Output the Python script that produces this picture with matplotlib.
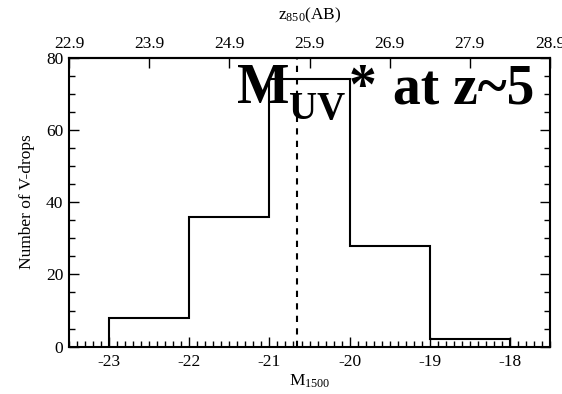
import numpy as np
import matplotlib.pyplot as plt
from matplotlib.ticker import MultipleLocator, FixedLocator

plt.rcParams['font.family'] = ['Liberation Serif', 'DejaVu Serif']
plt.rcParams['mathtext.fontset'] = 'custom'
plt.rcParams['mathtext.rm'] = 'Liberation Serif'
plt.rcParams['mathtext.it'] = 'Liberation Serif:italic'
plt.rcParams['mathtext.bf'] = 'Liberation Serif:bold'
plt.rcParams['axes.unicode_minus'] = False

# binned absolute magnitudes of the V-drop sample
bin_edges = [-23, -22, -21, -20, -19, -18]
counts = [8, 36, 74, 28, 2]
m_star = -20.65
z_offset = 46.4          # z850(AB) = M1500 + offset
top_ticks = [22.9, 23.9, 24.9, 25.9, 26.9, 27.9, 28.9]

fig = plt.figure(figsize=(5.62, 3.94), dpi=100)
ax = fig.add_axes([0.1228, 0.12, 0.8559, 0.734])

ax.stairs(counts, bin_edges, baseline=0, color='black', linewidth=1.5)
ax.axvline(m_star, color='black', linewidth=1.5, linestyle=(0, (3, 3)))

ax.set_xlim(-23.5, -17.5)
ax.set_ylim(0, 80)
ax.xaxis.set_major_locator(MultipleLocator(1))
ax.xaxis.set_minor_locator(MultipleLocator(0.1))
ax.yaxis.set_major_locator(MultipleLocator(20))
ax.yaxis.set_minor_locator(MultipleLocator(5))
ax.tick_params(which='both', direction='in', width=1, labelsize=12.5,
               top=False, right=True)
ax.tick_params(which='major', length=7)
ax.tick_params(which='minor', length=4)
ax.tick_params(axis='y', which='both', right=True, labelright=False, pad=4)
ax.tick_params(axis='x', pad=5)
for s in ax.spines.values():
    s.set_linewidth(1.5)

ax.set_xlabel(r'M$_{1500}$', fontsize=12.5, labelpad=2)
ax.set_ylabel('Number of V-drops', fontsize=12.5, labelpad=8)

top = ax.secondary_xaxis('top', functions=(lambda m: m + z_offset,
                                           lambda z: z - z_offset))
top.xaxis.set_major_locator(FixedLocator(top_ticks))
top.xaxis.set_minor_locator(FixedLocator([]))
top.tick_params(direction='in', length=7, width=1, labelsize=12.5, pad=4)
top.set_xlabel(r'z$_{850}$(AB)', fontsize=12.5, labelpad=12)
top.spines['top'].set_linewidth(1.5)

# big label: M, lowered UV subscript, asterisk, then the rest
base_y = 0.8416
t_m = ax.text(0.3487, base_y, 'M', transform=ax.transAxes, fontsize=40,
              fontweight='bold', ha='left', va='baseline', clip_on=False)
t_uv = ax.annotate('UV', xy=(1, base_y), xycoords=(t_m, 'axes fraction'),
                   xytext=(0, -11), textcoords='offset points', fontsize=28,
                   fontweight='bold', ha='left', va='baseline')
t_star = ax.annotate('*', xy=(1, base_y), xycoords=(t_uv, 'axes fraction'),
                     xytext=(2.5, 0), textcoords='offset points', fontsize=40,
                     fontweight='bold', ha='left', va='baseline')
ax.annotate('at z~5', xy=(1, base_y), xycoords=(t_star, 'axes fraction'),
            xytext=(11.5, 0), textcoords='offset points', fontsize=40,
            fontweight='bold', ha='left', va='baseline')

fig.savefig('out.png', dpi=100)
